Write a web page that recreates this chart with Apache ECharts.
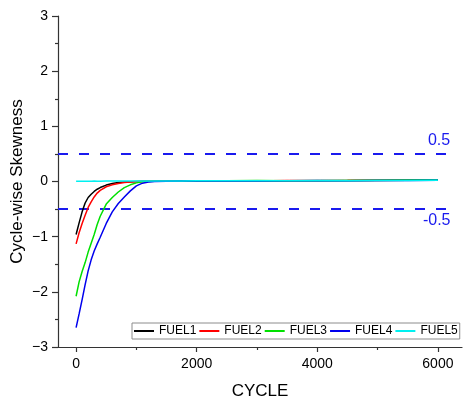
<!DOCTYPE html>
<html>
<head>
<meta charset="utf-8">
<script src="https://cdn.jsdelivr.net/npm/echarts@6/dist/echarts.min.js"></script>
<style>
  html, body { margin: 0; padding: 0; background: #fff; }
  #chart { width: 467px; height: 401px; }
</style>
</head>
<body>
<div id="chart"></div>
<script>
// Cycle numbers at which skewness was sampled
const cycles = [0, 50, 100, 150, 200, 250, 300, 350, 400, 500, 600, 700, 800, 900, 1000,
  1100, 1200, 1300, 1500, 1750, 2000, 2500, 3000, 3500, 4000, 4500, 5000, 5500, 6000];

// Cycle-wise skewness per fuel
const fuel1 = [-0.96, -0.75, -0.55, -0.39, -0.29, -0.23, -0.18, -0.14, -0.11, -0.065, -0.035, -0.018, -0.008, -0.003, 0.0,
  0.003, 0.004, 0.005, 0.006, 0.008, 0.010, 0.012, 0.010, 0.015, 0.013, 0.017, 0.020, 0.022, 0.025];
const fuel2 = [-1.13, -0.93, -0.76, -0.61, -0.47, -0.37, -0.28, -0.21, -0.16, -0.095, -0.06, -0.035, -0.02, -0.01, -0.004,
  0.002, 0.004, 0.006, 0.007, 0.009, 0.012, 0.015, 0.011, 0.018, 0.014, 0.016, 0.021, 0.024, 0.028];
const fuel3 = [-2.08, -1.82, -1.63, -1.47, -1.28, -1.12, -0.96, -0.78, -0.63, -0.41, -0.29, -0.19, -0.11, -0.06, -0.025,
  -0.005, 0.0, 0.004, 0.006, 0.009, 0.011, 0.013, 0.016, 0.012, 0.017, 0.019, 0.022, 0.026, 0.030];
const fuel4 = [-2.65, -2.40, -2.14, -1.87, -1.62, -1.42, -1.26, -1.13, -1.01, -0.76, -0.55, -0.40, -0.28, -0.17, -0.08,
  -0.03, -0.01, 0.0, 0.004, 0.007, 0.010, 0.012, 0.009, 0.013, 0.016, 0.014, 0.018, 0.020, 0.024];
const fuel5 = [0.005, 0.005, 0.006, 0.005, 0.006, 0.006, 0.007, 0.006, 0.006, 0.007, 0.008, 0.007, 0.008, 0.008, 0.009,
  0.009, 0.010, 0.010, 0.011, 0.011, 0.012, 0.013, 0.012, 0.014, 0.015, 0.015, 0.017, 0.019, 0.022];

const fuelNames = ['FUEL1', 'FUEL2', 'FUEL3', 'FUEL4', 'FUEL5'];
const fuelColors = ['#000000', '#ff0000', '#00e000', '#0000ee', '#00f0f0'];
const fuelValues = [fuel1, fuel2, fuel3, fuel4, fuel5];

// Reference limits drawn as dashed lines
const limitValues = [0.5, -0.5];
const limitSpan = [-300, 6200];

const xTicksMajor = [0, 2000, 4000, 6000];
const xTicksMinor = [1000, 3000, 5000];

const FONT = 'Liberation Sans, Arial, sans-serif';
const LIMIT_COLOR = '#1a1aee';

const fuelSeries = fuelNames.map((name, i) => ({
  name: name,
  type: 'line',
  showSymbol: false,
  symbol: 'none',
  smooth: false,
  lineStyle: { width: 1.5, color: fuelColors[i] },
  itemStyle: { color: fuelColors[i] },
  z: 3 + i,
  data: cycles.map((c, k) => [c, fuelValues[i][k]])
}));

const limitSeries = limitValues.map((v) => ({
  name: 'limit' + v,
  type: 'line',
  symbol: 'none',
  silent: true,
  lineStyle: { width: 2, color: LIMIT_COLOR, type: [10, 11] },
  z: 2,
  endLabel: {
    show: true,
    formatter: String(v),
    color: LIMIT_COLOR,
    fontFamily: FONT,
    fontSize: 16,
    distance: 0,
    offset: v > 0 ? [-22, -13] : [-27, 12]
  },
  data: [[limitSpan[0], v], [limitSpan[1], v]]
}));

const chart = echarts.init(document.getElementById('chart'), null, { renderer: 'canvas' });

chart.setOption({
  backgroundColor: '#ffffff',
  animation: false,
  grid: { left: 58, right: 5, top: 16, bottom: 54, containLabel: false, outerBoundsMode: 'none' },
  legend: {
    data: fuelNames,
    left: 132,
    top: 323,
    orient: 'horizontal',
    icon: 'rect',
    itemWidth: 20,
    itemHeight: 2,
    itemGap: 3,
    padding: [2, 2, 2, 2],
    borderColor: '#8c8c8c',
    borderWidth: 1,
    textStyle: { fontFamily: FONT, fontSize: 12, color: '#000' }
  },
  xAxis: [
    {
      type: 'value',
      min: -300,
      max: 6400,
      name: 'CYCLE',
      nameLocation: 'middle',
      nameGap: 36,
      nameMoveOverlap: false,
      nameTextStyle: { fontFamily: FONT, fontSize: 17, color: '#000' },
      axisLine: { show: true, onZero: false, lineStyle: { color: '#333', width: 1.2 } },
      axisTick: { show: true, customValues: xTicksMajor, length: 5, lineStyle: { color: '#333', width: 1.2 } },
      axisLabel: {
        customValues: xTicksMajor, fontFamily: FONT, fontSize: 14, color: '#000', margin: 10,
        formatter: (v) => String(v)
      },
      splitLine: { show: false }
    },
    {
      type: 'value',
      min: -300,
      max: 6400,
      position: 'bottom',
      axisLine: { show: false, onZero: false },
      axisTick: { show: true, customValues: xTicksMinor, length: 3, lineStyle: { color: '#333', width: 1.2 } },
      axisLabel: { show: false },
      splitLine: { show: false }
    }
  ],
  yAxis: {
    type: 'value',
    min: -3,
    max: 3,
    interval: 1,
    name: 'Cycle-wise Skewness',
    nameLocation: 'middle',
    nameGap: 32,
    nameMoveOverlap: false,
    nameTextStyle: { fontFamily: FONT, fontSize: 17, color: '#000' },
    axisLine: { show: true, onZero: false, lineStyle: { color: '#333', width: 1.2 } },
    axisTick: { show: true, length: 6, lineStyle: { color: '#333', width: 1.2 } },
    minorTick: { show: true, splitNumber: 2, length: 3, lineStyle: { color: '#333', width: 1.2 } },
    axisLabel: {
      fontFamily: FONT, fontSize: 14, color: '#000', margin: 10,
      formatter: (v) => String(v).replace('-', '\u2212')
    },
    splitLine: { show: false }
  },
  series: limitSeries.concat(fuelSeries)
});
</script>
</body>
</html>
